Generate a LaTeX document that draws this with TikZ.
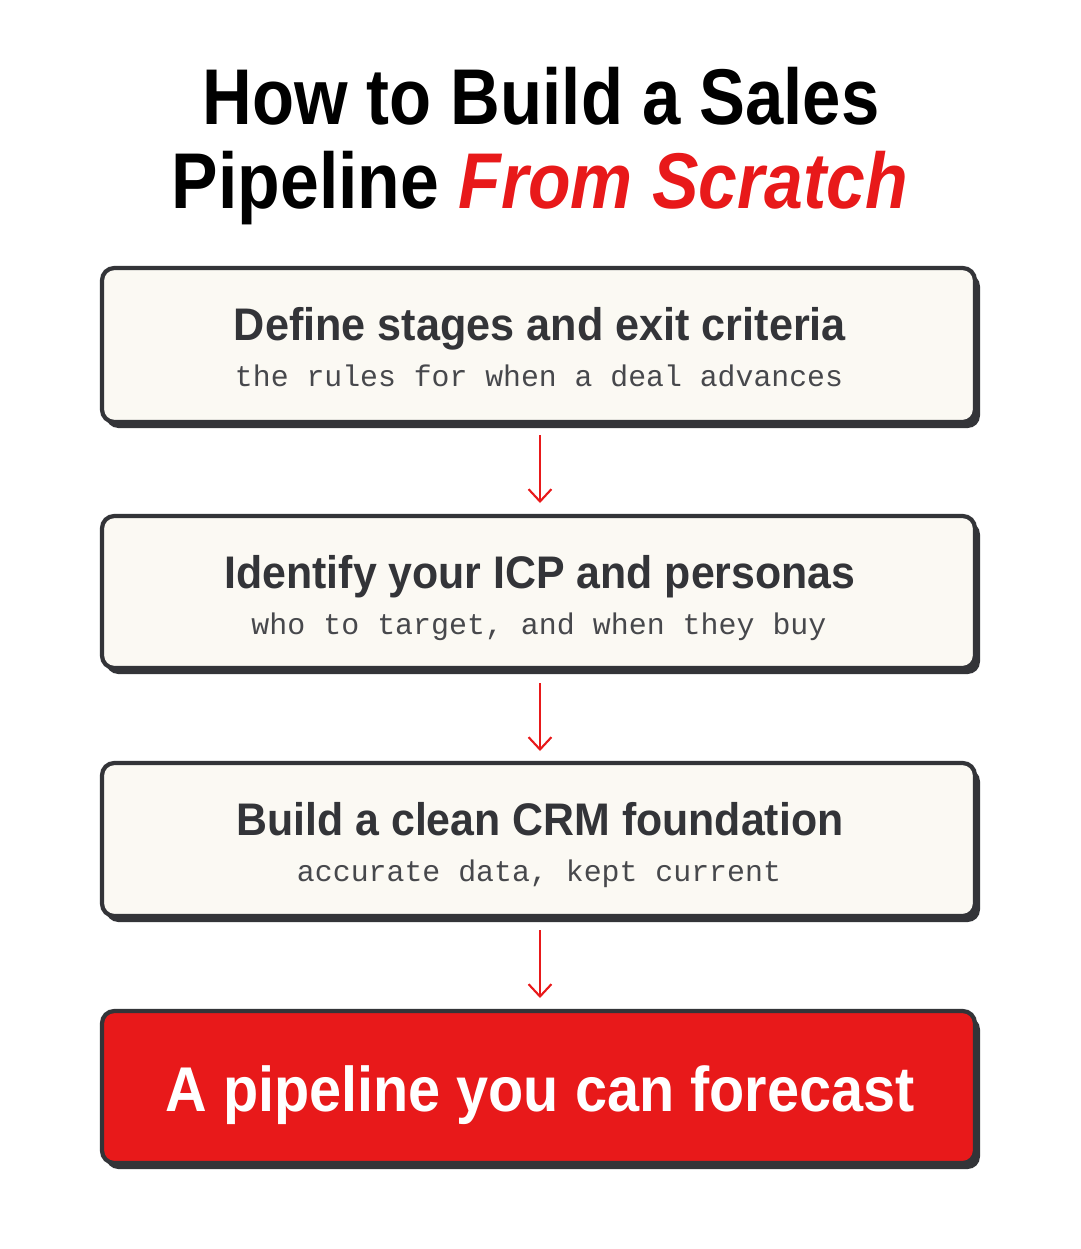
\documentclass[tikz,border=0pt]{standalone}
\usepackage{fontspec}
\usepackage{graphicx}
\usetikzlibrary{arrows.meta}
\setmainfont{Liberation Sans}
\setmonofont{Liberation Mono}
\definecolor{redc}{HTML}{E8191A}
\definecolor{cream}{HTML}{FBF9F3}
\definecolor{dark}{HTML}{333438}
\newcommand{\fitw}[2]{\resizebox{#1}{\height}{#2}}
\begin{document}
\begin{tikzpicture}[x=0.02cm,y=-0.02cm,
  box/.style={draw=dark,line width=2.4pt,rounded corners=7pt},
  shadow/.style={fill=dark,rounded corners=7pt},
  arr/.style={draw=redc,line width=1.2pt,-{Straight Barb[length=7pt,width=13pt]}},
  ttl/.style={font=\fontsize{26}{28}\selectfont\bfseries,text=dark,inner sep=0,anchor=base},
  sub/.style={font=\ttfamily\fontsize{17}{19}\selectfont,text=dark!90,inner sep=0,anchor=base}]
\useasboundingbox (0,0) rectangle (1080,1249);
\node[inner sep=0,anchor=base,font=\fontsize{45}{47}\selectfont\bfseries] (t1) at (541,124) {\fitw{677\dimexpr0.02cm\relax}{How to Build a Sales}};
\node[inner sep=0,anchor=base,font=\fontsize{45}{47}\selectfont\bfseries] (t2) at (540,208) {\fitw{736\dimexpr0.02cm\relax}{Pipeline \textcolor{redc}{\itshape From Scratch}}};
\foreach \n/\a/\b/\c in {b1/268/422/cream,b2/516/668/cream,b3/763/916/cream,b4/1011/1163/redc}{
  \fill[shadow] (106,\a+6) rectangle (980,\b+6);
  \path[box,fill=\c] (102,\a) rectangle (975,\b) node[pos=0.5,inner sep=0] (\n) {};
}
\node[ttl] (h1) at (540,340) {\fitw{612\dimexpr0.02cm\relax}{Define stages and exit criteria}};
\node[sub] (s1) at (539,386) {\fitw{608\dimexpr0.02cm\relax}{the rules for when a deal advances}};
\node[ttl] (h2) at (540,588) {\fitw{631\dimexpr0.02cm\relax}{Identify your ICP and personas}};
\node[sub] (s2) at (539,634) {\fitw{575\dimexpr0.02cm\relax}{who to target, and when they buy}};
\node[ttl] (h3) at (540,835) {\fitw{607\dimexpr0.02cm\relax}{Build a clean CRM foundation}};
\node[sub] (s3) at (539,881) {\fitw{484\dimexpr0.02cm\relax}{accurate data, kept current}};
\node[inner sep=0,anchor=base,text=white,font=\fontsize{36}{38}\selectfont\bfseries] (h4) at (540,1111) {\fitw{749\dimexpr0.02cm\relax}{A pipeline you can forecast}};
\coordinate (a1s) at (540,435); \coordinate (a1e) at (540,503);
\coordinate (a2s) at (540,683); \coordinate (a2e) at (540,751);
\coordinate (a3s) at (540,930); \coordinate (a3e) at (540,998);
\draw[arr] (a1s) -- (a1e);
\draw[arr] (a2s) -- (a2e);
\draw[arr] (a3s) -- (a3e);
\end{tikzpicture}
\end{document}
